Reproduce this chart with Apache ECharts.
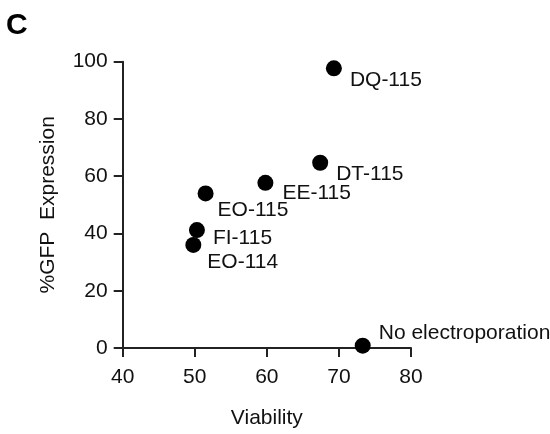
<!DOCTYPE html>
<html>
<head>
<meta charset="utf-8">
<script src="https://cdn.jsdelivr.net/npm/echarts@6/dist/echarts.min.js"></script>
<style>
  html, body { margin: 0; padding: 0; background: #fff; }
  #chart { width: 550px; height: 434px; }
</style>
</head>
<body>
<div id="chart"></div>
<script>
// Sample names, viability (%) and GFP expression (%)
const samples = ['DQ-115', 'DT-115', 'EE-115', 'EO-115', 'FI-115', 'EO-114', 'No electroporation'];
const viability = [69.3, 67.4, 59.8, 51.5, 50.3, 49.8, 73.3];
const gfpExpression = [97.7, 64.7, 57.7, 54.0, 41.2, 36.0, 0.8];
// Label offsets from each dot centre (text left edge, text middle)
const labelOffsets = [[16, 12], [16, 11], [17, 10], [12, 17], [16, 8], [14, 17], [16, -13]];

const xTicks = { min: 40, max: 80, interval: 10 };
const yTicks = { min: 0, max: 100, interval: 20 };

const FONT = 'Liberation Sans, Arial, sans-serif';
const INK = '#111111';
const FS = 21;

const points = samples.map((name, i) => ({
  name: name,
  value: [viability[i], gfpExpression[i]],
  label: { offset: labelOffsets[i] }
}));

const chart = echarts.init(document.getElementById('chart'), null, { renderer: 'canvas' });
chart.setOption({
  backgroundColor: '#ffffff',
  animation: false,
  graphic: [{
    type: 'text',
    left: 6,
    top: 11,
    style: { text: 'C', font: 'bold 30px ' + FONT, fill: '#000' }
  }],
  grid: { left: 122.7, right: 139, top: 61.7, bottom: 85.5, containLabel: false },
  xAxis: {
    type: 'value',
    min: xTicks.min, max: xTicks.max, interval: xTicks.interval,
    name: 'Viability',
    nameLocation: 'middle',
    nameGap: 60,
    nameTextStyle: { fontFamily: FONT, fontSize: FS, color: INK },
    axisLine: { show: true, onZero: false, lineStyle: { color: '#222', width: 2 } },
    axisTick: { show: true, inside: false, length: 9, lineStyle: { color: '#222', width: 2 } },
    axisLabel: { margin: 19, fontFamily: FONT, fontSize: FS, color: INK },
    splitLine: { show: false }
  },
  yAxis: {
    type: 'value',
    min: yTicks.min, max: yTicks.max, interval: yTicks.interval,
    name: '%GFP  Expression',
    nameLocation: 'middle',
    nameGap: 64,
    nameTextStyle: { fontFamily: FONT, fontSize: FS, color: INK },
    axisLine: { show: true, onZero: false, lineStyle: { color: '#222', width: 2 } },
    axisTick: { show: true, inside: false, length: 9, lineStyle: { color: '#222', width: 2 } },
    axisLabel: { margin: 15, fontFamily: FONT, fontSize: FS, color: INK },
    splitLine: { show: false }
  },
  series: [{
    type: 'scatter',
    symbol: 'circle',
    symbolSize: 16,
    itemStyle: { color: '#000', opacity: 1 },
    label: {
      show: true,
      position: 'inside',
      align: 'left',
      verticalAlign: 'middle',
      formatter: p => p.name,
      fontFamily: FONT,
      fontSize: FS,
      color: INK,
      opacity: 1
    },
    data: points
  }]
});
</script>
</body>
</html>
